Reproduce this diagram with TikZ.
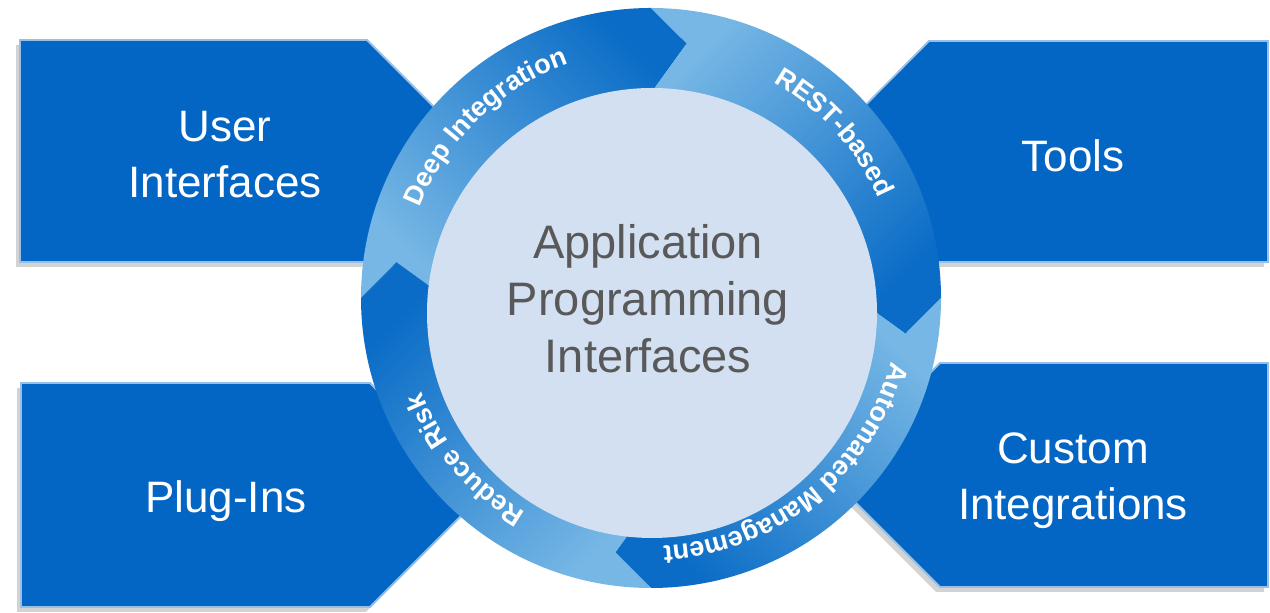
\documentclass[tikz,border=0pt]{standalone}
\usepackage{fontspec}
\setmainfont{Liberation Sans}
\usepackage{tikz}
\usetikzlibrary{shapes,arrows.meta,positioning,shadows,decorations.text}

\definecolor{panelblue}{RGB}{4,102,196}
\definecolor{panelrim}{RGB}{150,192,232}
\definecolor{ringlight}{RGB}{118,183,229}
\definecolor{ringdark}{RGB}{10,108,198}
\definecolor{discfill}{RGB}{210,224,242}
\definecolor{apitext}{RGB}{89,89,89}

\newcommand{\ringfont}{\bfseries\fontsize{13.5}{15}\selectfont}

\begin{document}
\begin{tikzpicture}[
    x=0.5pt, y=0.5pt,
    panel/.style={
      fill=panelblue,
      draw=panelrim,
      line width=0.9pt,
      drop shadow={shadow xshift=-2pt, shadow yshift=-2.5pt, opacity=0.35},
    },
    paneltext/.style={
      text=white,
      align=center,
      font=\fontsize{22}{28}\selectfont,
    },
    ringlabel/.style={
      decorate,
      decoration={text along path, text align=center, text color=white},
    },
  ]
    \useasboundingbox (0,0) rectangle (1270,613);

    % four panels pointing at the ring
    \draw[panel] (20,573) -- (367,573) -- (478,462) -- (367,351) -- (20,351) -- cycle;
    \draw[panel] (929,572) -- (1268,572) -- (1268,351) -- (929,351) -- (819,461) -- cycle;
    \draw[panel] (21,230) -- (370,230) -- (482,118) -- (370,6) -- (21,6) -- cycle;
    \draw[panel] (940,250) -- (1268,250) -- (1268,26) -- (940,26) -- (828,138) -- cycle;

    \node[paneltext] (userif) at (225,458) {User\\Interfaces};
    \node[paneltext] (tools) at (1073,457) {Tools};
    \node[paneltext] (plugins) at (226,112) {Plug-Ins};
    \node[paneltext] (custom) at (1073,132) {Custom\\Integrations};

    \begin{scope}[shift={(651,315)}]
      % Deep Integration: 180 -> 90
      \shade[top color=ringdark, bottom color=ringlight, shading angle=-45]
        (180:290) arc[start angle=180, end angle=90, radius=290] -- (82:257)
        -- (90:205) arc[start angle=90, end angle=180, radius=205] -- (172:257) -- cycle;
      % REST-based: 90 -> 0
      \shade[top color=ringdark, bottom color=ringlight, shading angle=-135]
        (90:290) arc[start angle=90, end angle=0, radius=290] -- (-8:257)
        -- (0:205) arc[start angle=0, end angle=90, radius=205] -- (82:257) -- cycle;
      % Automated Management: 0 -> -90
      \shade[top color=ringdark, bottom color=ringlight, shading angle=135]
        (0:290) arc[start angle=0, end angle=-90, radius=290] -- (-98:257)
        -- (-90:205) arc[start angle=-90, end angle=0, radius=205] -- (-8:257) -- cycle;
      % Reduce Risk: -90 -> -180
      \shade[top color=ringdark, bottom color=ringlight, shading angle=45]
        (-90:290) arc[start angle=-90, end angle=-180, radius=290] -- (-188:257)
        -- (-180:205) arc[start angle=-180, end angle=-90, radius=205] -- (-98:257) -- cycle;

      % inner disc
      \fill[discfill] (1,-15) circle[radius=225];

      % labels on the ring
      \path[ringlabel, decoration={text={|\ringfont|Deep Integration}}]
        (204:248) arc[start angle=204, end angle=64, radius=248];
      \path[ringlabel, decoration={text={|\ringfont|REST-based}}]
        (112:248) arc[start angle=112, end angle=-28, radius=248];
      \path[ringlabel, decoration={text={|\ringfont|Automated Management}}]
        (19:248) arc[start angle=19, end angle=-121, radius=248];
      \path[ringlabel, decoration={text={|\ringfont|Reduce Risk}}]
        (-69:248) arc[start angle=-69, end angle=-209, radius=248];
    \end{scope}

    \node[align=center, text=apitext, font=\fontsize{23.5}{28.5}\selectfont] (api) at (648,314)
      {Application\\Programming\\Interfaces};
\end{tikzpicture}
\end{document}
